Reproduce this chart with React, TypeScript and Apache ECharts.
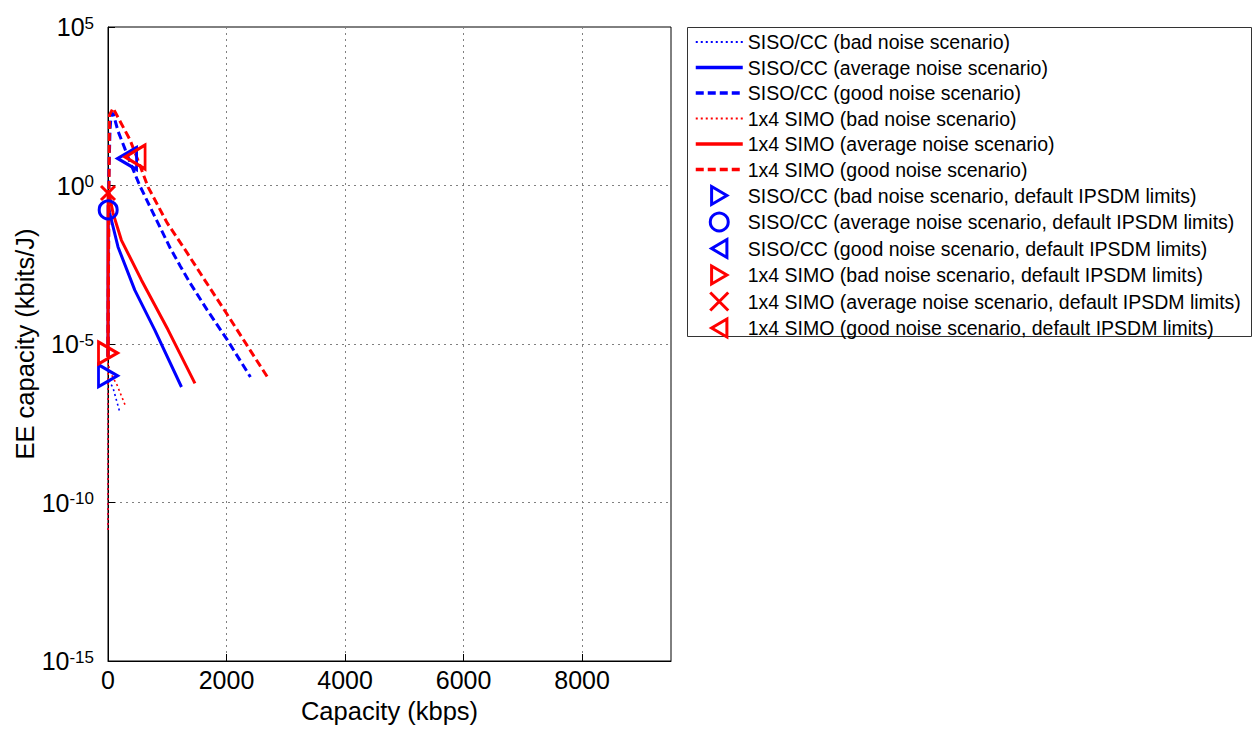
import React, { useEffect, useRef } from "react";
import * as echarts from "echarts";

const FONT = "'Liberation Sans', Arial, Helvetica, sans-serif";
const BLUE = "#0000ff";
const RED = "#ff0000";

// Capacity (kbps) and EE capacity (kbits/J) along each curve
const sisoBadCap = [0, 3, 30, 85, 198];
const sisoBadEE = [1.35e-11, 7.1e-7, 6.3e-7, 4.1e-7, 7.2e-8];

const sisoAvgCap = [0, 3, 29, 169, 452, 790, 1240];
const sisoAvgEE = [4e-6, 0.24, 0.135, 0.0115, 5e-4, 2.75e-5, 4.4e-7];

const sisoGoodCap = [0, 15, 34, 51, 85, 169, 288, 389, 541, 795, 1049, 1218, 1387, 1675, 2013, 2403];
const sisoGoodEE = [4e-6, 2.0, 56, 155, 195, 52, 14, 4.5, 0.95, 0.1, 0.0107, 2.9e-3, 8.3e-4, 1.17e-4, 1.35e-5, 9.1e-7];

const simoBadCap = [0, 3, 34, 152, 288];
const simoBadEE = [1.35e-11, 2.5e-6, 1.3e-6, 5.1e-7, 1.2e-7];

const simoAvgCap = [0, 2, 29, 85, 225, 563, 1015, 1467];
const simoAvgEE = [3.9e-6, 0.72, 0.45, 0.135, 0.019, 1.05e-3, 2.75e-5, 5.75e-7];

const simoGoodCap = [0, 17, 25, 85, 203, 372, 541, 677, 998, 1303, 1641, 1996, 2352, 2690];
const simoGoodEE = [3.9e-6, 1.05, 166, 275, 107, 27.5, 4.2, 0.89, 0.066, 9.3e-3, 9.8e-4, 9.5e-5, 8.7e-6, 9.1e-7];

// Operating points with the default IPSDM limits: [capacity, EE]
const sisoBadPoint = [0, 1.0e-6];
const sisoAvgPoint = [3, 0.17];
const sisoGoodPoint = [322, 7.1];
const simoBadPoint = [0, 5.2e-6];
const simoAvgPoint = [0, 0.58];
const simoGoodPoint = [457, 7.9];

const xTicks = [0, 2000, 4000, 6000, 8000];
const xMax = 9500;
const yMin = 1e-15;
const yMax = 1e5;

const curveNames = [
  "SISO/CC (bad noise scenario)",
  "SISO/CC (average noise scenario)",
  "SISO/CC (good noise scenario)",
  "1x4 SIMO (bad noise scenario)",
  "1x4 SIMO (average noise scenario)",
  "1x4 SIMO (good noise scenario)",
];
const pointNames = [
  "SISO/CC (bad noise scenario, default IPSDM limits)",
  "SISO/CC (average noise scenario, default IPSDM limits)",
  "SISO/CC (good noise scenario, default IPSDM limits)",
  "1x4 SIMO (bad noise scenario, default IPSDM limits)",
  "1x4 SIMO (average noise scenario, default IPSDM limits)",
  "1x4 SIMO (good noise scenario, default IPSDM limits)",
];

const TRI_RIGHT = "path://M0,0L17,10L0,20Z";
const TRI_LEFT = "path://M17,0L0,10L17,20Z";
const CROSS = "path://M0,0L10,10M10,0L0,10";

const DOTTED = [2, 3];
const DASHED = [8, 4];
const curveTypes = [DOTTED, "solid", DASHED, DOTTED, "solid", DASHED];
const curveWidths = [1.6, 3, 3, 1.6, 3, 3];

function curve(name: string, cap: number[], ee: number[], color: string, type: any, width: number) {
  return {
    name,
    type: "line",
    data: cap.map((c, i) => [c, ee[i]]),
    symbol: "none",
    lineStyle: { color, width, type },
    itemStyle: { color },
    clip: true,
  };
}

function point(name: string, p: number[], color: string, symbol: string, size: any) {
  return {
    name,
    type: "scatter",
    data: [p],
    symbol,
    symbolSize: size,
    clip: false,
    itemStyle: { color: "rgba(0,0,0,0)", borderColor: color, borderWidth: 3, opacity: 1 },
    z: 5,
  };
}

export default function App() {
  const ref = useRef<HTMLDivElement>(null);

  useEffect(() => {
    if (!ref.current) return;
    const chart = echarts.init(ref.current, undefined, { renderer: "svg" });
    const legendData = [
      ...curveNames.map((name, i) => ({
        name,
        itemStyle: { opacity: 0, color: "transparent", borderWidth: 0 },
        lineStyle: { width: curveWidths[i] === 3 ? 3.5 : 2, type: curveTypes[i] },
      })),
      ...pointNames.map((name) => ({ name, itemStyle: { borderWidth: 3 } })),
    ];
    chart.setOption({
      animation: false,
      backgroundColor: "#ffffff",
      textStyle: { fontFamily: FONT },
      grid: {
        left: 108,
        top: 27,
        right: 583,
        bottom: 67,
        show: true,
        borderColor: "#000",
        borderWidth: 1,
        backgroundColor: "transparent",
      },
      legend: {
        orient: "vertical",
        left: 694,
        top: 32,
        padding: 0,
        itemWidth: 47,
        itemHeight: 18,
        itemGap: 5.5,
        data: legendData,
        selectedMode: false,
        textStyle: { fontSize: 19.5, fontFamily: FONT, color: "#000", lineHeight: 19 },
      },
      xAxis: {
        type: "value",
        min: 0,
        max: xMax,
        interval: xTicks[1] - xTicks[0],
        name: "Capacity (kbps)",
        nameLocation: "middle",
        nameGap: 37,
        nameTextStyle: { fontSize: 25.5, fontFamily: FONT, color: "#000" },
        axisLine: { show: true, lineStyle: { color: "#000", width: 1 } },
        axisTick: { show: true, inside: true, length: 7, lineStyle: { color: "#000" } },
        axisLabel: {
          fontSize: 25,
          fontFamily: FONT,
          color: "#000",
          margin: 6,
          showMaxLabel: false,
          formatter: (v: number) => String(v),
        },
        splitLine: { show: true, lineStyle: { color: "#808080", type: [2, 4], width: 1 } },
      },
      yAxis: {
        type: "log",
        logBase: 100000,
        min: yMin,
        max: yMax,
        name: "EE capacity (kbits/J)",
        nameLocation: "middle",
        nameGap: 70,
        nameTextStyle: { fontSize: 25.5, fontFamily: FONT, color: "#000" },
        axisLine: { show: true, lineStyle: { color: "#000", width: 1 } },
        axisTick: { show: true, inside: true, length: 7, lineStyle: { color: "#000" } },
        axisLabel: {
          margin: 14,
          formatter: (v: number) => {
            const e = Math.round(Math.log10(v));
            return `{b|10}{s|${e}}`;
          },
          rich: {
            b: { fontSize: 25, fontFamily: FONT, color: "#000", lineHeight: 25, verticalAlign: "bottom" },
            s: {
              fontSize: 17,
              fontFamily: FONT,
              color: "#000",
              lineHeight: 17,
              verticalAlign: "top",
              padding: [0, 0, 15, 0],
            },
          },
        },
        splitLine: { show: true, lineStyle: { color: "#808080", type: [2, 4], width: 1 } },
      },
      graphic: [
        {
          type: "rect",
          shape: { x: 687.5, y: 27.5, width: 564, height: 309 },
          style: { fill: "#fff", stroke: "#333", lineWidth: 1 },
          z: -1,
          silent: true,
        },
      ],
      series: [
        curve(curveNames[0], sisoBadCap, sisoBadEE, BLUE, curveTypes[0], curveWidths[0]),
        curve(curveNames[1], sisoAvgCap, sisoAvgEE, BLUE, curveTypes[1], curveWidths[1]),
        curve(curveNames[2], sisoGoodCap, sisoGoodEE, BLUE, curveTypes[2], curveWidths[2]),
        curve(curveNames[3], simoBadCap, simoBadEE, RED, curveTypes[3], curveWidths[3]),
        curve(curveNames[4], simoAvgCap, simoAvgEE, RED, curveTypes[4], curveWidths[4]),
        curve(curveNames[5], simoGoodCap, simoGoodEE, RED, curveTypes[5], curveWidths[5]),
        point(pointNames[0], sisoBadPoint, BLUE, TRI_RIGHT, [19, 22]),
        point(pointNames[1], sisoAvgPoint, BLUE, "circle", 18),
        point(pointNames[2], sisoGoodPoint, BLUE, TRI_LEFT, [19, 22]),
        point(pointNames[3], simoBadPoint, RED, TRI_RIGHT, [19, 22]),
        point(pointNames[4], simoAvgPoint, RED, CROSS, 14),
        point(pointNames[5], simoGoodPoint, RED, TRI_LEFT, [20, 24]),
      ],
    });
    return () => chart.dispose();
  }, []);

  return (
    <div
      ref={ref}
      style={{ position: "fixed", left: 0, top: 0, width: 1254, height: 729, background: "#fff" }}
    />
  );
}
